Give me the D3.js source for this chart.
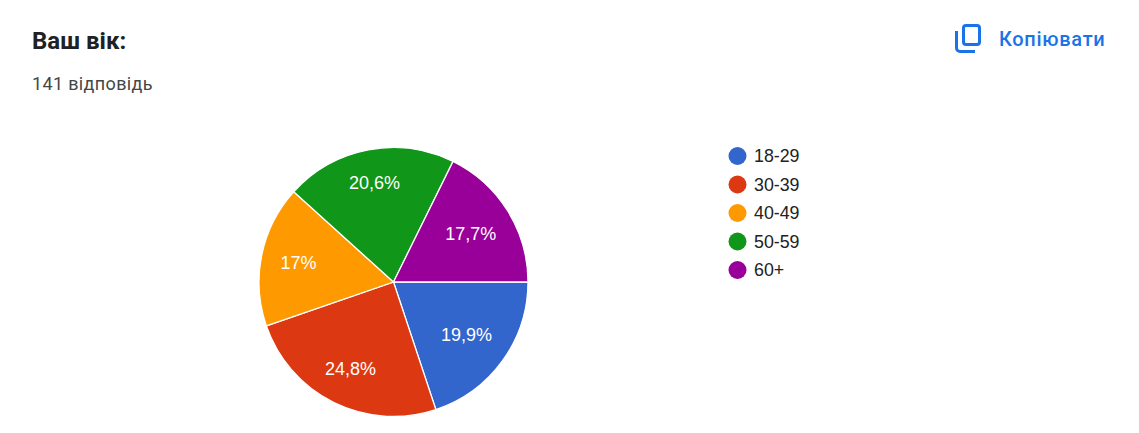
<!DOCTYPE html>
<html>
<head>
<meta charset="utf-8">
<script src="https://cdn.jsdelivr.net/npm/d3@7"></script>
<style>
  html, body { margin: 0; background: #fff; }
  svg { display: block; }
</style>
</head>
<body>
<script>
const categories = ['18-29', '30-39', '40-49', '50-59', '60+']
const values = [19.9, 24.8, 17, 20.6, 17.7]
const valueLabels = ['19,9%', '24,8%', '17%', '20,6%', '17,7%']
const colors = ['#3366cc', '#dc3912', '#ff9900', '#109618', '#990099']

const width = 1139, height = 433
const cx = 393.5, cy = 282, radius = 134.5
// the labels do not sit on one circle in the original, so each slice has its own distance
const labelRadii = [90, 97, 97, 101, 91]

const svg = d3.select('body').append('svg')
  .attr('width', width)
  .attr('height', height)

// Header
svg.append('text')
  .attr('x', 32).attr('y', 49)
  .style('font-family', 'Roboto')
  .style('font-size', '24px')
  .style('font-weight', 700)
  .style('fill', '#202124')
  .text('Ваш вік:')

svg.append('text')
  .attr('x', 32).attr('y', 90)
  .style('font-family', 'Roboto')
  .style('font-size', '18px')
  .style('letter-spacing', '0.35px')
  .style('fill', '#444746')
  .text('141 відповідь')

// Copy button
const copy = svg.append('g')
  .style('fill', 'none')
  .style('stroke', '#1a73e8')
  .style('stroke-width', 3)

copy.append('rect')
  .attr('x', 963.5).attr('y', 25.5)
  .attr('width', 16).attr('height', 19)
  .attr('rx', 2.5)

copy.append('path')
  .attr('d', 'M956.5 31V48a3.5 3.5 0 0 0 3.500 3.500H975')

svg.append('text')
  .attr('x', 999).attr('y', 46)
  .style('font-family', 'Roboto')
  .style('font-size', '20px')
  .style('font-weight', 500)
  .style('letter-spacing', '0.7px')
  .style('fill', '#1a73e8')
  .text('Копіювати')

// Pie, clockwise from 3 o'clock like the original
const pie = d3.pie()
  .value(d => d)
  .sort(null)
  .startAngle(Math.PI / 2)
  .endAngle(Math.PI / 2 + 2 * Math.PI)

const arc = d3.arc().innerRadius(0).outerRadius(radius)

const g = svg.append('g').attr('transform', `translate(${cx},${cy})`)
const slices = pie(values)

g.selectAll('path')
  .data(slices)
  .enter()
  .append('path')
  .attr('d', arc)
  .attr('fill', (d, i) => colors[i])
  .attr('stroke', '#fff')
  .attr('stroke-width', 1.3)

function labelPos(d, i) {
  return d3.arc().innerRadius(labelRadii[i]).outerRadius(labelRadii[i]).centroid(d)
}

g.selectAll('text')
  .data(slices)
  .enter()
  .append('text')
  .attr('x', (d, i) => labelPos(d, i)[0])
  .attr('y', (d, i) => labelPos(d, i)[1])
  .attr('dy', '0.35em')
  .attr('text-anchor', 'middle')
  .style('font-family', 'Liberation Sans')
  .style('font-size', '18px')
  .style('fill', '#fff')
  .text((d, i) => valueLabels[i])

// Legend
const legendY = d3.scalePoint().domain(categories).range([156, 270])
const legend = svg.append('g')

legend.selectAll('circle')
  .data(categories)
  .enter()
  .append('circle')
  .attr('cx', 737.5)
  .attr('cy', d => legendY(d))
  .attr('r', 9)
  .attr('fill', (d, i) => colors[i])

legend.selectAll('text')
  .data(categories)
  .enter()
  .append('text')
  .attr('x', 754)
  .attr('y', d => legendY(d))
  .attr('dy', '0.35em')
  .style('font-family', 'Liberation Sans')
  .style('font-size', '17.8px')
  .style('fill', '#222')
  .text(d => d)
</script>
</body>
</html>
